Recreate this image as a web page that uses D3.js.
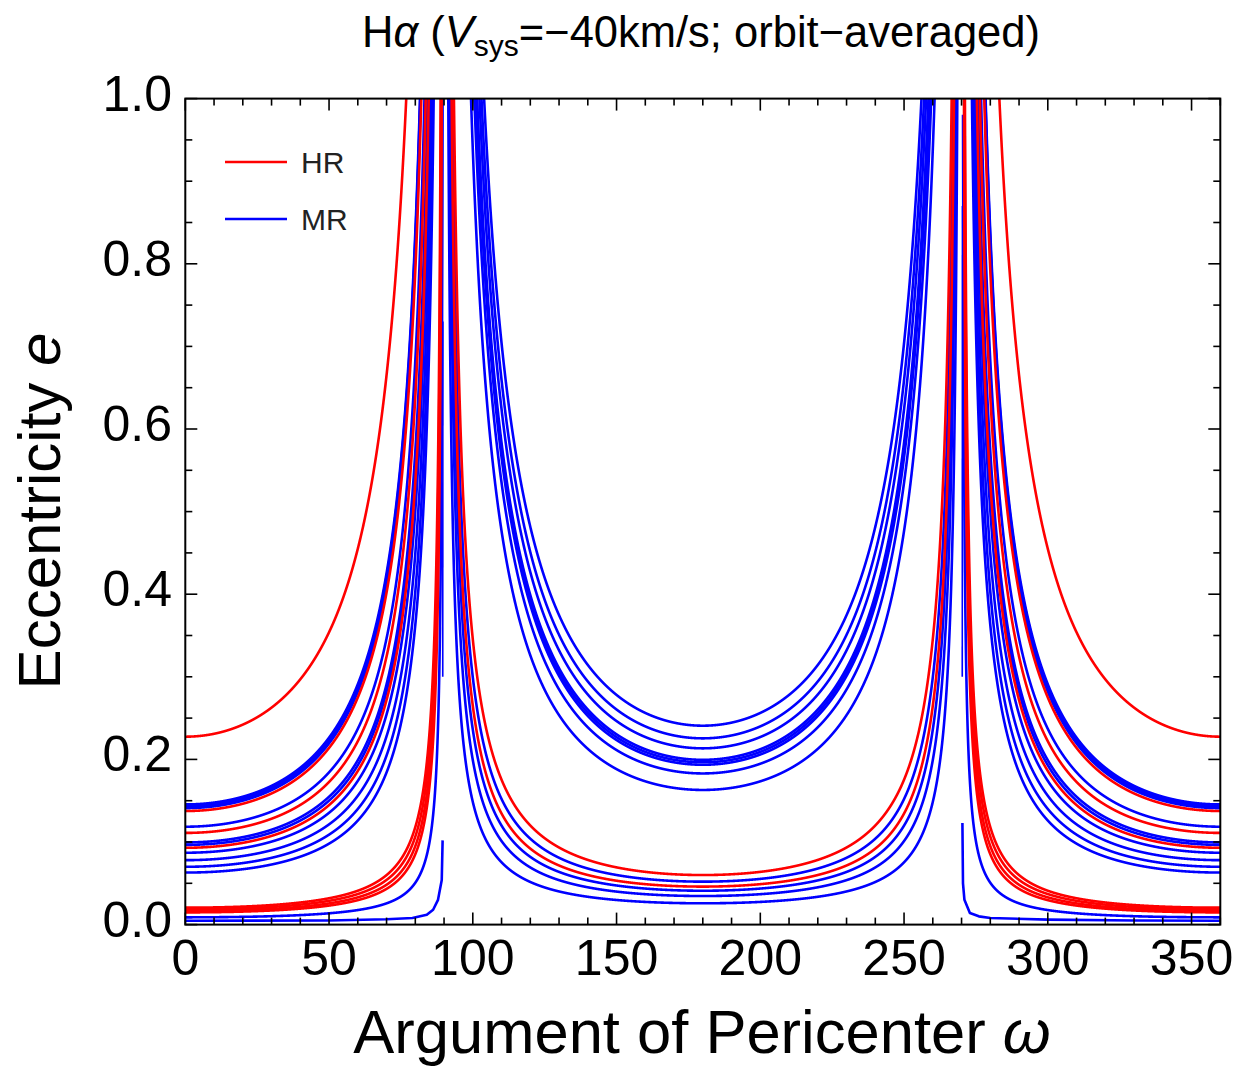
<!DOCTYPE html>
<html>
<head>
<meta charset="utf-8">
<script src="https://cdn.jsdelivr.net/npm/d3@7"></script>
<style>
  html, body { margin: 0; padding: 0; background: #fff; }
  svg { display: block; font-family: "Liberation Sans", Arial, Helvetica, sans-serif; }
</style>
</head>
<body>
<svg id="chart" width="1238" height="1068"></svg>
<script>
// ---- data ----
// HR curves: eccentricity read at omega = 0 (branches outside 90..270)
const hrOuterE0 = [0.2275, 0.1375, 0.111, 0.093, 0.0205, 0.0185, 0.0165, 0.0148];
// HR curves: eccentricity read at omega = 180 (branches between 90 and 270)
const hrInnerE180 = [0.060, 0.046];
// MR curves: eccentricity read at omega = 0
const mrOuterE0 = [0.1455, 0.1440, 0.1425, 0.1410, 0.1185, 0.0995, 0.0965, 0.087, 0.078, 0.070, 0.063, 0.0088];
// MR curves: eccentricity read at omega = 180
const mrInnerE180 = [0.2408, 0.2255, 0.2134, 0.1995, 0.1965, 0.1935, 0.183, 0.163, 0.052, 0.041, 0.0346, 0.0258];
// MR truncated pieces near the asymptotes, read point by point [omega, e]
const mrPieceA = [[0,0.0047],[50,0.0050],[70,0.0065],[79,0.008],[84,0.012],[86.2,0.018],[87.9,0.030],[89.2,0.054],[89.5,0.102]];
const mrPieceB = [[89.55,0.30],[89.6,0.73]];
const mrPieceC = [[270.3,0.123],[270.5,0.05],[271,0.03],[272.9,0.014],[276,0.010],[280,0.008],[300,0.006],[330,0.005],[360,0.0047]];
const mrPieceD = [[270.25,0.30],[270.3,0.87]];

const xTicksMajor = [0, 50, 100, 150, 200, 250, 300, 350];
const yTicksMajor = [0.0, 0.2, 0.4, 0.6, 0.8, 1.0];
const legendNames = ["HR", "MR"];
const seriesColors = { HR: "#ff0000", MR: "#0000ff" };

// ---- layout ----
const svg = d3.select("#chart");
const X0 = 185.3, X1 = 1220.3, Y0 = 924.6, Y1 = 98.6;
const x = d3.scaleLinear().domain([0, 360]).range([X0, X1]);
const y = d3.scaleLinear().domain([0, 1]).range([Y0, Y1]);

svg.append("defs").append("clipPath").attr("id", "plotclip")
  .append("rect").attr("x", X0).attr("y", Y1).attr("width", X1 - X0).attr("height", Y0 - Y1);

const line = d3.line().x(d => x(d[0])).y(d => y(d[1]));
const rad = Math.PI / 180;

// constant e*|cos w| family: curve passing through the read value
function branch(c, lo, hi) {
  const pts = [];
  const step = 0.02;
  for (let w = lo; w <= hi + 1e-9; w += step) {
    pts.push([w, c / Math.abs(Math.cos(w * rad))]);
  }
  return pts.filter(p => p[1] <= 1.02);
}
function outerBranches(c) {
  const a = Math.acos(Math.min(c / 1.02, 1)) / rad;
  return [branch(c, 0, a), branch(c, 360 - a, 360)];
}
function innerBranches(c) {
  const a = Math.acos(Math.min(c / 1.02, 1)) / rad;
  return [branch(c, 180 - a, 180 + a)];
}

const plot = svg.append("g").attr("clip-path", "url(#plotclip)");

function drawSet(list, color) {
  plot.selectAll(null).data(list).enter().append("path")
    .attr("d", line).attr("fill", "none").attr("stroke", color)
    .attr("stroke-width", 2.6).attr("stroke-linejoin", "round");
}

const mrPaths = [].concat(...mrOuterE0.map(outerBranches), ...mrInnerE180.map(innerBranches));
const hrPaths = [].concat(...hrOuterE0.map(outerBranches), ...hrInnerE180.map(innerBranches));
drawSet(mrPaths, seriesColors.MR);
drawSet([mrPieceA, mrPieceC], seriesColors.MR);
plot.selectAll(null).data([mrPieceB, mrPieceD]).enter().append("path")
  .attr("d", line).attr("fill", "none").attr("stroke", seriesColors.MR).attr("stroke-width", 1.6);
drawSet(hrPaths, seriesColors.HR);

// ---- frame & ticks ----
const axes = svg.append("g");
axes.append("rect").attr("x", X0).attr("y", Y1).attr("width", X1 - X0).attr("height", Y0 - Y1)
  .attr("fill", "none").attr("stroke", "#000").attr("stroke-width", 2);

const xMinor = d3.range(0, 361, 10).filter(v => v % 50 !== 0);
const yMinor = d3.range(0, 21).map(i => i * 0.05).filter(v => Math.abs(v * 5 - Math.round(v * 5)) > 1e-6);
const tickG = axes.append("g").attr("stroke", "#000").attr("stroke-width", 1.6);
function xt(vals, len) {
  vals.forEach(v => {
    tickG.append("line").attr("x1", x(v)).attr("x2", x(v)).attr("y1", Y0).attr("y2", Y0 - len);
    tickG.append("line").attr("x1", x(v)).attr("x2", x(v)).attr("y1", Y1).attr("y2", Y1 + len);
  });
}
function yt(vals, len) {
  vals.forEach(v => {
    tickG.append("line").attr("y1", y(v)).attr("y2", y(v)).attr("x1", X0).attr("x2", X0 + len);
    tickG.append("line").attr("y1", y(v)).attr("y2", y(v)).attr("x1", X1).attr("x2", X1 - len);
  });
}
xt(xTicksMajor, 12); xt(xMinor, 7);
yt(yTicksMajor, 12); yt(yMinor, 7);

axes.selectAll(null).data(xTicksMajor).enter().append("text")
  .attr("x", d => x(d)).attr("y", 975).attr("text-anchor", "middle")
  .attr("font-size", 50).text(d => d);
axes.selectAll(null).data(yTicksMajor).enter().append("text")
  .attr("x", 172).attr("y", d => y(d) + 12).attr("text-anchor", "end")
  .attr("font-size", 50).text(d => d3.format(".1f")(d));

// axis titles
const yl = svg.append("text").attr("transform", "translate(60,511) rotate(-90)")
  .attr("text-anchor", "middle").attr("font-size", 60);
yl.append("tspan").text("Eccentricity ");
yl.append("tspan").attr("font-style", "italic").text("e");

const xl = svg.append("text").attr("x", 702).attr("y", 1053)
  .attr("text-anchor", "middle").attr("font-size", 61.5);
xl.append("tspan").text("Argument of Pericenter ");
xl.append("tspan").attr("font-style", "italic").text("ω");

// title
const tt = svg.append("text").attr("x", 701).attr("y", 47)
  .attr("text-anchor", "middle").attr("font-size", 43.5);
tt.append("tspan").text("H");
tt.append("tspan").attr("font-style", "italic").text("α");
tt.append("tspan").text(" (");
tt.append("tspan").attr("font-style", "italic").text("V");
tt.append("tspan").attr("font-size", 30).attr("dy", 9).text("sys");
tt.append("tspan").attr("dy", -9).text("=−40km/s; orbit−averaged)");

// legend
const leg = svg.append("g");
legendNames.forEach((n, i) => {
  const ly = 162 + i * 57;
  leg.append("line").attr("x1", 225).attr("x2", 287).attr("y1", ly).attr("y2", ly)
    .attr("stroke", seriesColors[n]).attr("stroke-width", 2.4);
  leg.append("text").attr("x", 301).attr("y", ly + 11).attr("font-size", 30)
    .attr("fill", "#222").text(n);
});
</script>
</body>
</html>
